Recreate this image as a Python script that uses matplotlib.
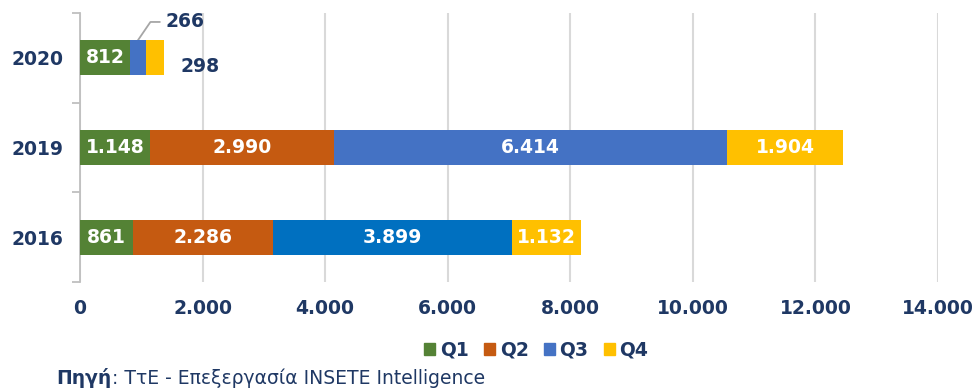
import matplotlib
matplotlib.use("Agg")
import matplotlib.pyplot as plt
from matplotlib.patches import Patch
from matplotlib.transforms import offset_copy

years = ["2016", "2019", "2020"]
quarters = ["Q1", "Q2", "Q3", "Q4"]
q1 = [861, 1148, 812]
q2 = [2286, 2990, 0]
q3 = [3899, 6414, 266]
q4 = [1132, 1904, 298]
xticks = [0, 2000, 4000, 6000, 8000, 10000, 12000, 14000]

colors = {"Q1": "#548235", "Q2": "#C55A11", "Q3": "#4472C4", "Q4": "#FFC000"}
q3_colors = ["#0070C0", "#4472C4", "#4472C4"]
navy = "#1F3864"
fs = 13.5

def fmt(v):
    return f"{v:,}".replace(",", ".")

fig = plt.figure(figsize=(9.75, 3.88), dpi=100)
ax = fig.add_axes([0.082, 0.273, 0.88, 0.6935])

series = [q1, q2, q3, q4]
left = [0, 0, 0]
pos = list(range(len(years)))
h = 0.39
for qi, (name, vals) in enumerate(zip(quarters, series)):
    cols = q3_colors if name == "Q3" else [colors[name]] * len(vals)
    bars = ax.barh(pos, vals, left=left, height=h, color=cols, zorder=3)
    for i, (b, v) in enumerate(zip(bars, vals)):
        if v == 0 or years[i] == "2020" and name in ("Q3", "Q4"):
            continue
        ax.text(left[i] + v / 2, pos[i], fmt(v), ha="center", va="center",
                color="white", fontsize=fs, fontweight="bold", zorder=4)
    left = [l + v for l, v in zip(left, vals)]

# small 2020 segments labelled outside the bar
i20 = years.index("2020")
q3_mid = q1[i20] + q2[i20] + q3[i20] / 2
ax.plot([q3_mid, 1150, 1300], [pos[i20] + h / 2, 2.40, 2.40],
        color="#A6A6A6", lw=1.3, zorder=2, clip_on=False)
ax.text(1390, 2.40, fmt(q3[i20]), ha="left", va="center", color=navy,
        fontsize=fs, fontweight="bold")
ax.text(1960, pos[i20] - 0.1, fmt(q4[i20]), ha="center", va="center",
        color=navy, fontsize=fs, fontweight="bold")

ax.set_xlim(0, 14000)
ax.set_ylim(-0.5, 2.5)
ax.set_xticks(xticks)
ax.set_xticklabels([fmt(t) for t in xticks])
ax.set_yticks(pos)
ax.set_yticklabels(years)
ax.set_yticks([-0.5, 0.5, 1.5, 2.5], minor=True)
ax.tick_params(axis="y", which="major", length=0, pad=12)
ax.tick_params(axis="y", which="minor", length=6, color="#BFBFBF", width=1.3)
ax.tick_params(axis="x", length=0, pad=12)
for lbl in ax.get_xticklabels() + ax.get_yticklabels():
    lbl.set_fontsize(fs)
    lbl.set_fontweight("bold")
    lbl.set_color(navy)

ax.grid(axis="x", color="#D9D9D9", lw=1.5, zorder=0)
for s in ("top", "right", "bottom"):
    ax.spines[s].set_visible(False)
ax.spines["left"].set_color("#BFBFBF")
ax.spines["left"].set_linewidth(1.3)

handles = [Patch(color=colors[q]) for q in quarters]
leg = fig.legend(handles, quarters, loc="center", bbox_to_anchor=(0.55, 0.097),
                 ncol=4, frameon=False, handlelength=0.6, handleheight=0.6,
                 handletextpad=0.25, columnspacing=0.8,
                 prop={"size": 13.5, "weight": "bold"})
for t in leg.get_texts():
    t.set_color(navy)

# source note: bold label followed by regular text
src = fig.text(0.058, 0.026, "Πηγή", color=navy, fontsize=13.5,
               fontweight="bold", va="center")
fig.canvas.draw()
w = src.get_window_extent().width
fig.text(0.058, 0.026, ": ΤτΕ - Επεξεργασία INSETE Intelligence", color=navy,
         fontsize=13.5, va="center",
         transform=offset_copy(fig.transFigure, fig=fig, x=w, y=0, units="dots"))

fig.savefig("out.png", dpi=100)
